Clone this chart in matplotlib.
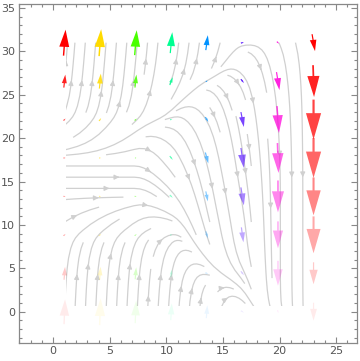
import numpy as np
import matplotlib
matplotlib.use("Agg")
import matplotlib.pyplot as plt
from matplotlib.ticker import MultipleLocator
from matplotlib.colors import hsv_to_rgb
from matplotlib.patches import Rectangle

# grid of the vector field
xs = np.linspace(1, 23, 8)
ys = np.linspace(0, 31, 8)

# field components (data units), rows = y from bottom (0) to top (31), cols = x
U = np.array([
    [0.09, 0.09, 0.09, 0.09, 0.09, 0.26, 0.09, 0.00],
    [0.09, 0.09, 0.09, 0.09, 0.26, 0.26, 0.00, 0.00],
    [0.18, 0.18, 0.18, 0.18, 0.18, 0.18, 0.00, 0.00],
    [0.18, 0.18, 0.18, 0.26, 0.18, 0.26, 0.00, 0.00],
    [0.18, 0.18, 0.13, 0.26, 0.26, 0.26, 0.09, 0.00],
    [0.18, 0.18, 0.18, 0.18, 0.26, 0.26, 0.18, 0.00],
    [0.13, 0.13, 0.13, 0.26, 0.18, 0.26, 0.26, 0.09],
    [0.18, 0.18, 0.18, 0.18, 0.18, 0.26, 0.18, 0.26],
])
V = np.array([
    [2.87, 3.10, 2.64, 1.95, 1.49, -0.23, -0.34, -2.07],
    [1.49, 1.49, 1.38, 0.80, -0.11, -0.46, -2.87, -2.53],
    [0.23, 0.23, 0.23, 0.06, -0.80, -1.72, -3.10, -4.25],
    [0.00, 0.00, 0.00, -0.34, -1.15, -2.07, -3.67, -4.36],
    [0.00, 0.00, 0.00, -0.46, -1.26, -2.30, -3.44, -4.59],
    [0.23, 0.34, 0.23, 0.03, -0.57, -1.72, -3.10, -4.59],
    [1.49, 1.72, 1.49, 0.92, 0.11, -0.46, -2.07, -3.67],
    [2.99, 3.10, 2.87, 2.41, 1.72, 0.11, -0.23, -1.95],
])

fig = plt.figure(figsize=(3.6, 3.61), dpi=100)
ax = fig.add_axes([0.052, 0.05, 0.94, 0.94])
ax.set_xlim(-3.05, 26.85)
ax.set_ylim(-3.6, 35.5)

# streamlines
kw = dict(density=0.85, color='#d0d0d0', linewidth=0.9, arrowsize=0.7, zorder=1)
try:
    sp = ax.streamplot(xs, ys, U, V, num_arrows=4, **kw)
except TypeError:
    sp = ax.streamplot(xs, ys, U, V, **kw)
clip = Rectangle((1.1, 0.6), 21.3, 30.5, transform=ax.transData, fill=False, visible=False)
ax.add_patch(clip)
sp.lines.set_clip_path(clip)
for p in ax.patches:
    if p is not clip:
        p.set_clip_path(clip)

# pixel scales for aspect compensation
pos = ax.get_position()
W = pos.width * fig.get_figwidth() * fig.dpi
H = pos.height * fig.get_figheight() * fig.dpi
sx = W / (ax.get_xlim()[1] - ax.get_xlim()[0])
sy = H / (ax.get_ylim()[1] - ax.get_ylim()[0])

# colored vector arrows
for j, yv in enumerate(ys):
    alpha = 0.08 + 0.92 * (yv - ys[0]) / (ys[-1] - ys[0])
    for i, xv in enumerate(xs):
        hue = (xv - xs[0]) / (xs[-1] - xs[0])
        rgb = hsv_to_rgb([0.0 if hue >= 1 else hue, 1.0, 1.0])
        u, v = U[j, i], V[j, i]
        dlen = np.hypot(u, v)
        if dlen < 1e-6:
            continue
        dx, dy = u / dlen, v / dlen
        s_par = np.hypot(dx * sx, dy * sy)
        s_perp = np.hypot(dy * sx, dx * sy)
        Lpx = dlen * s_par
        ax.arrow(xv - u / 2, yv - v / 2, u, v, length_includes_head=True,
                 head_length=0.66 * dlen, head_width=0.38 * Lpx / s_perp,
                 width=max(0.055 * Lpx, 1.2) / s_perp,
                 color=(*rgb, alpha), lw=0, zorder=3)

ax.xaxis.set_major_locator(MultipleLocator(5))
ax.yaxis.set_major_locator(MultipleLocator(5))
ax.xaxis.set_minor_locator(MultipleLocator(1))
ax.yaxis.set_minor_locator(MultipleLocator(1))
ax.tick_params(which='both', direction='in', top=True, right=True, color='#888888',
               labelsize=8, labelcolor='#555555', width=0.8, pad=2.5)
ax.tick_params(which='major', length=4.5)
ax.tick_params(which='minor', length=2.5)
for s in ax.spines.values():
    s.set_color('#888888')
    s.set_linewidth(0.9)

fig.savefig('out.png', dpi=100)
